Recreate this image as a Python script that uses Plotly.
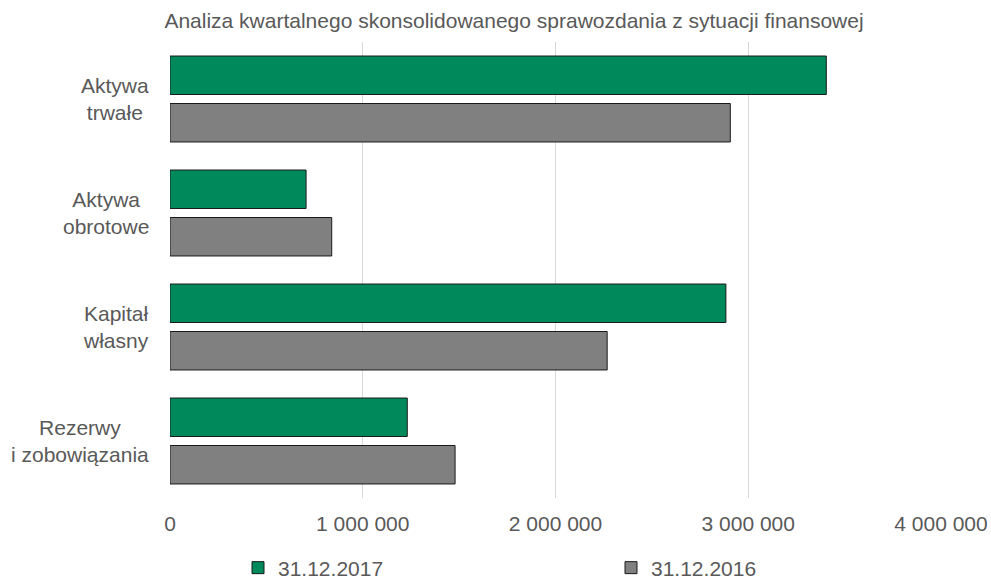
import plotly.graph_objects as go

categories = ["Aktywa trwałe", "Aktywa obrotowe", "Kapitał własny", "Rezerwy i zobowiązania"]
category_labels = ["Aktywa<br>trwałe", "Aktywa<br>obrotowe", "Kapitał<br>własny", "Rezerwy<br>i zobowiązania"]
values_2017 = [3405000, 706000, 2884000, 1231000]
values_2016 = [2907000, 839000, 2268000, 1479000]
series_names = ["31.12.2017", "31.12.2016"]
x_ticks = [0, 1000000, 2000000, 3000000, 4000000]

GREEN = "#008A5B"
GRAY = "#808080"
TEXT = "#595959"
FONT = "Liberation Sans, Arial, sans-serif"

fig = go.Figure()
fig.add_trace(go.Bar(
    y=categories, x=values_2017, orientation="h", name=series_names[0],
    marker=dict(color=GREEN, line=dict(color="#1a1a1a", width=1)),
    legend="legend",
))
fig.add_trace(go.Bar(
    y=categories, x=values_2016, orientation="h", name=series_names[1],
    marker=dict(color=GRAY, line=dict(color="#1a1a1a", width=1)),
    legend="legend2",
))

for cat, lab in zip(categories, category_labels):
    fig.add_annotation(
        x=0, xref="paper", y=cat, yref="y", text=lab, showarrow=False,
        xanchor="right", yanchor="middle", align="center", xshift=-19,
        font=dict(family=FONT, size=21, color=TEXT),
    )

fig.update_layout(
    width=991, height=579,
    margin=dict(l=170, r=50, t=42, b=81, autoexpand=False),
    paper_bgcolor="white", plot_bgcolor="white",
    barmode="group", bargap=0.167, bargroupgap=0.19,
    separators=", ",
    font=dict(family=FONT, size=21, color=TEXT),
    title=dict(
        text="Analiza kwartalnego skonsolidowanego sprawozdania z sytuacji finansowej",
        x=514 / 991, xref="container", xanchor="center",
        y=1 - 21 / 579, yref="container", yanchor="middle",
        font=dict(family=FONT, size=21, color=TEXT),
    ),
    xaxis=dict(
        range=[0, 4000000], tickvals=x_ticks, tickformat=",.0f", tickangle=0,
        showgrid=True, gridcolor="#D9D9D9", gridwidth=1, zeroline=False,
        showline=False, ticks="", automargin=False, ticklabelstandoff=11,
        tickfont=dict(family=FONT, size=21, color=TEXT),
    ),
    yaxis=dict(
        autorange="reversed", showticklabels=False, showgrid=False,
        zeroline=False, showline=False, ticks="", automargin=False,
    ),
    showlegend=True,
    legend=dict(
        x=238 / 991, xref="container", xanchor="left",
        y=1 - 568 / 579, yref="container", yanchor="middle",
        font=dict(family=FONT, size=21, color=TEXT), bgcolor="rgba(0,0,0,0)",
    ),
    legend2=dict(
        x=611 / 991, xref="container", xanchor="left",
        y=1 - 568 / 579, yref="container", yanchor="middle",
        font=dict(family=FONT, size=21, color=TEXT), bgcolor="rgba(0,0,0,0)",
    ),
)

fig.write_html(
    "out.html",
    config={"displayModeBar": False},
    post_script="document.body.style.margin='0';document.body.style.overflow='hidden';",
)
